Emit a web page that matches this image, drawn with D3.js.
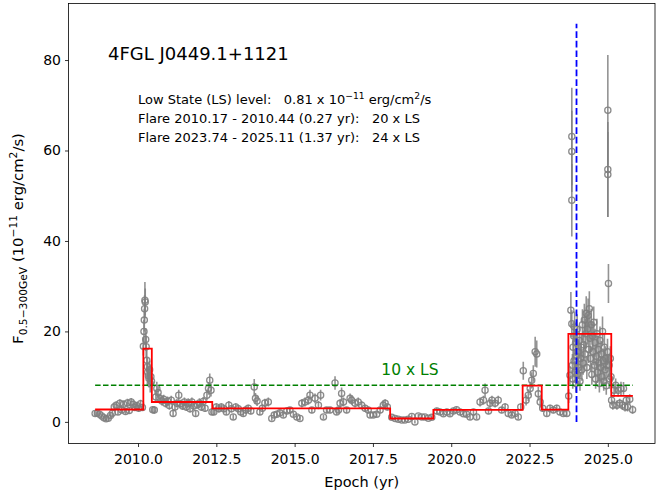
<!DOCTYPE html>
<html>
<head>
<meta charset="utf-8">
<script src="https://cdn.jsdelivr.net/npm/d3@7"></script>
<style>
  body { margin: 0; background: #fff; }
  svg { display: block; }
  text { font-family: "DejaVu Sans", sans-serif; fill: #000; }
</style>
</head>
<body>
<svg id="chart" width="656" height="497"></svg>
<script>
// Fermi-LAT light curve of 4FGL J0449.1+1121: [epoch (yr), flux (1e-11 erg/cm2/s), 1-sigma error]
const lightCurve = [
  [2008.63, 1.85, 0.5], [2008.70, 1.9, 0.5], [2008.77, 1.7, 0.5], [2008.84, 1.3, 0.5],
  [2008.91, 0.9, 0.5], [2008.98, 0.7, 0.5], [2009.05, 0.8, 0.5], [2009.12, 1.4, 0.6],
  [2009.18, 1.9, 0.6], [2009.24, 3.3, 0.8], [2009.30, 3.7, 0.8], [2009.36, 2.2, 0.7],
  [2009.42, 4.1, 0.9], [2009.48, 2.6, 0.7], [2009.54, 3.9, 0.8], [2009.60, 2.3, 0.7],
  [2009.66, 4.2, 0.9], [2009.72, 2.5, 0.7], [2009.78, 4.4, 0.9], [2009.84, 3.9, 0.8],
  [2009.90, 3.2, 0.8], [2009.96, 3.6, 0.8], [2010.02, 3.0, 0.8], [2010.08, 4.0, 0.9],
  [2010.14, 3.2, 0.8],
  // 2010 flare
  [2010.17, 16.7, 2.0], [2010.19, 20.0, 2.5], [2010.20, 22.5, 2.5], [2010.21, 25.0, 3.0],
  [2010.22, 26.9, 4.0], [2010.23, 26.5, 3.0], [2010.245, 18.2, 2.5], [2010.26, 16.6, 2.5],
  [2010.28, 13.6, 2.5], [2010.30, 12.2, 2.0], [2010.31, 11.0, 2.0], [2010.33, 10.2, 2.0],
  [2010.35, 9.6, 2.0], [2010.37, 11.5, 2.0], [2010.39, 8.5, 2.0], [2010.41, 10.0, 2.0],
  [2010.43, 9.0, 1.8],
  [2010.47, 2.7, 0.8], [2010.52, 2.6, 0.8], [2010.57, 5.5, 1.2], [2010.60, 7.4, 1.5],
  [2010.64, 6.5, 1.3], [2010.70, 5.2, 1.1], [2010.76, 4.6, 1.0], [2010.82, 5.0, 1.0],
  [2010.88, 4.1, 0.9], [2010.94, 4.6, 1.0], [2011.00, 3.6, 0.9], [2011.06, 4.8, 1.0],
  [2011.12, 1.85, 0.7], [2011.18, 3.3, 0.9], [2011.24, 4.1, 0.9], [2011.30, 5.9, 1.2],
  [2011.36, 4.0, 0.9], [2011.42, 3.5, 0.9], [2011.48, 4.4, 1.0], [2011.54, 3.3, 0.9],
  [2011.60, 4.2, 1.0], [2011.66, 2.9, 0.8], [2011.72, 4.4, 1.0], [2011.78, 3.5, 0.9],
  [2011.84, 1.85, 0.7], [2011.90, 3.8, 0.9], [2011.96, 4.2, 1.0], [2012.02, 3.3, 0.9],
  [2012.08, 4.5, 1.0], [2012.14, 3.0, 0.8], [2012.20, 5.9, 1.2], [2012.25, 7.4, 1.4],
  [2012.29, 9.2, 1.5], [2012.33, 7.0, 1.4], [2012.36, 2.2, 0.7],
  [2012.42, 2.2, 0.7], [2012.50, 3.3, 0.8], [2012.58, 2.9, 0.8], [2012.66, 3.3, 0.8],
  [2012.74, 2.9, 0.8], [2012.82, 2.2, 0.7], [2012.90, 3.7, 0.9], [2012.98, 2.9, 0.8],
  [2013.04, 1.1, 0.6], [2013.12, 3.3, 0.8], [2013.20, 2.9, 0.8], [2013.28, 2.2, 0.7],
  [2013.36, 1.85, 0.7], [2013.44, 2.6, 0.8], [2013.52, 3.0, 0.8], [2013.60, 2.4, 0.7],
  [2013.71, 7.7, 1.8], [2013.75, 5.2, 1.2], [2013.80, 4.6, 1.1], [2013.89, 2.2, 0.7],
  [2013.97, 3.0, 0.8], [2014.05, 4.2, 0.9], [2014.16, 4.4, 1.0], [2014.27, 0.75, 0.5],
  [2014.35, 1.5, 0.6], [2014.43, 1.7, 0.6], [2014.53, 2.0, 0.6], [2014.64, 1.5, 0.6],
  [2014.75, 2.4, 0.7], [2014.85, 2.6, 0.7], [2014.96, 1.7, 0.6], [2015.07, 1.1, 0.5],
  [2015.17, 0.75, 0.5], [2015.23, 4.1, 0.9], [2015.33, 4.4, 1.0], [2015.44, 4.8, 1.0],
  [2015.49, 5.9, 1.2], [2015.55, 2.6, 0.7], [2015.65, 5.2, 1.1], [2015.76, 3.7, 0.9],
  [2015.83, 5.9, 1.2], [2015.92, 1.1, 0.5], [2016.02, 2.6, 0.7], [2016.13, 2.6, 0.7],
  [2016.29, 8.6, 1.5], [2016.34, 2.2, 0.7], [2016.40, 2.6, 0.7], [2016.45, 4.1, 0.9],
  [2016.50, 6.3, 1.3], [2016.56, 4.4, 1.0], [2016.66, 2.6, 0.7], [2016.77, 5.2, 1.1],
  [2016.82, 4.8, 1.0], [2016.93, 4.1, 0.9], [2017.03, 4.4, 1.0], [2017.14, 3.7, 0.9],
  [2017.25, 3.0, 0.8], [2017.35, 2.6, 0.7], [2017.41, 1.5, 0.6], [2017.51, 1.5, 0.6],
  [2017.62, 1.7, 0.6], [2017.73, 2.6, 0.7], [2017.83, 3.7, 0.9], [2017.89, 4.1, 0.9],
  [2017.96, 3.3, 0.8],
  [2018.10, 1.0, 0.45], [2018.21, 0.75, 0.45], [2018.31, 0.6, 0.4], [2018.42, 0.4, 0.4],
  [2018.52, 0.4, 0.4], [2018.63, 0.6, 0.4], [2018.74, 1.2, 0.5], [2018.84, 0.0, 0.35],
  [2018.95, 1.3, 0.5], [2019.06, 1.1, 0.5], [2019.16, 1.1, 0.5], [2019.27, 0.8, 0.45],
  [2019.38, 1.0, 0.45],
  [2019.54, 2.4, 0.7], [2019.64, 2.2, 0.7], [2019.75, 1.8, 0.6], [2019.86, 2.2, 0.7],
  [2019.96, 1.8, 0.6], [2020.07, 2.4, 0.7], [2020.17, 2.7, 0.7], [2020.28, 2.2, 0.7],
  [2020.39, 1.8, 0.6], [2020.49, 1.7, 0.6], [2020.60, 1.1, 0.5], [2020.71, 2.2, 0.7],
  [2020.81, 1.1, 0.5], [2020.92, 4.4, 1.0], [2021.03, 4.8, 1.0], [2021.08, 7.0, 1.5],
  [2021.19, 2.4, 0.7], [2021.24, 4.1, 0.9], [2021.30, 4.8, 1.0], [2021.40, 4.1, 0.9],
  [2021.50, 4.8, 1.0], [2021.61, 2.6, 0.7], [2021.72, 3.3, 0.8], [2021.82, 1.85, 0.6],
  [2021.93, 1.5, 0.6], [2022.04, 1.85, 0.6], [2022.14, 1.1, 0.5], [2022.22, 3.3, 0.8],
  // 2022 activity
  [2022.30, 11.3, 2.0], [2022.39, 4.8, 1.2], [2022.46, 5.9, 1.3], [2022.52, 7.4, 1.5],
  [2022.57, 9.2, 1.8], [2022.62, 10.7, 1.8], [2022.68, 15.5, 3.3], [2022.73, 15.0, 3.0],
  [2022.78, 6.2, 1.5], [2022.84, 4.4, 1.2],
  [2022.92, 3.0, 0.8], [2023.05, 1.85, 0.6], [2023.155, 3.0, 0.8], [2023.26, 2.6, 0.7],
  [2023.37, 3.0, 0.8], [2023.47, 2.2, 0.7], [2023.58, 1.85, 0.6], [2023.69, 1.85, 0.6],
  // 2023-2025 flare
  [2023.75, 5.7, 1.5], [2023.79, 10.3, 2.0], [2023.82, 24.7, 4.0], [2023.85, 21.7, 3.0],
  [2023.85, 63.1, 10.8], [2023.85, 59.8, 9.0], [2023.85, 49.0, 8.0],
  [2023.87, 12.5, 2.5], [2023.88, 9.5, 2.2], [2023.89, 16.5, 3.0], [2023.91, 19.0, 3.2],
  [2023.92, 13.5, 2.6], [2023.94, 21.0, 3.4], [2023.95, 11.0, 2.4], [2023.97, 17.5, 3.0],
  [2023.98, 8.5, 2.0], [2024.00, 14.5, 2.8], [2024.02, 20.5, 3.3], [2024.03, 10.5, 2.3],
  [2024.05, 15.5, 2.9], [2024.07, 12.0, 2.5], [2024.09, 18.0, 3.1], [2024.11, 9.0, 2.1],
  [2024.13, 14.0, 2.7], [2024.15, 16.5, 3.0], [2024.17, 11.5, 2.4], [2024.19, 21.5, 3.4],
  [2024.21, 13.0, 2.6], [2024.23, 17.0, 3.0], [2024.25, 22.5, 3.6], [2024.27, 15.0, 2.9],
  [2024.29, 19.5, 3.3], [2024.31, 24.0, 3.8], [2024.33, 12.0, 2.5], [2024.35, 20.5, 3.4],
  [2024.37, 23.5, 3.8], [2024.39, 16.0, 3.0], [2024.41, 25.0, 3.9], [2024.43, 18.5, 3.2],
  [2024.45, 14.0, 2.8], [2024.47, 21.5, 3.5], [2024.49, 10.5, 2.3], [2024.51, 19.0, 3.2],
  [2024.53, 15.5, 2.9], [2024.55, 22.0, 3.5], [2024.57, 12.5, 2.5], [2024.59, 17.5, 3.1],
  [2024.61, 9.5, 2.2], [2024.63, 14.5, 2.8], [2024.65, 19.5, 3.3], [2024.67, 11.0, 2.4],
  [2024.69, 16.0, 3.0], [2024.71, 13.0, 2.6], [2024.73, 8.5, 2.0], [2024.75, 18.0, 3.1],
  [2024.77, 12.0, 2.5], [2024.79, 15.0, 2.9], [2024.81, 10.0, 2.2], [2024.83, 20.0, 3.3],
  [2024.85, 13.5, 2.7], [2024.87, 9.0, 2.1], [2024.89, 16.5, 3.0], [2024.91, 11.5, 2.4],
  [2024.93, 14.0, 2.7], [2024.95, 8.0, 2.0], [2024.97, 12.5, 2.5], [2024.99, 15.5, 2.9],
  [2025.00, 68.9, 12.2], [2025.00, 55.8, 10.5], [2025.00, 54.7, 9.4], [2025.02, 30.6, 4.3],
  [2025.04, 12.5, 2.5], [2025.06, 9.5, 2.2], [2025.08, 14.0, 2.7], [2025.10, 10.0, 2.2],
  [2025.12, 4.8, 1.2], [2025.16, 3.7, 1.0], [2025.20, 7.0, 1.5], [2025.25, 8.1, 1.5],
  [2025.29, 3.7, 1.0], [2025.33, 7.0, 1.4], [2025.38, 4.1, 1.0], [2025.42, 7.4, 1.5],
  [2025.46, 3.7, 1.0], [2025.50, 7.4, 1.4], [2025.55, 3.3, 1.0], [2025.59, 4.8, 1.1],
  [2025.63, 3.3, 1.0], [2025.70, 5.0, 1.1], [2025.79, 2.7, 0.9]
];

// Bayesian-block segmentation: block boundaries (yr) and block flux levels
const lowStateLevel = 0.81;
const blockEdges  = [2008.63, 2010.17, 2010.44, 2012.37, 2018.05, 2019.43, 2022.28, 2022.89, 2023.74, 2025.11, 2025.80];
const blockLevels = [2.74, 16.2, 4.4, 3.0, 0.75, 2.65, 8.0, 2.7, 19.44, 5.75];

// reference lines
const thresholdMultiple = 10;
const markerEpoch = 2024.0;
const markerTop = 88;

// axis ticks
const xTicks = [2010, 2012.5, 2015, 2017.5, 2020, 2022.5, 2025];
const yTicks = [0, 20, 40, 60, 80];

const svg = d3.select("#chart");
const plot = { left: 68.5, right: 655, top: 3.5, bottom: 443.5 };

const x = d3.scaleLinear().domain([2007.78, 2026.506]).range([plot.left, plot.right]);
const y = d3.scaleLinear().domain([-4.78, 92.5]).range([plot.bottom, plot.top]);

const clipId = "plot-clip";
svg.append("clipPath").attr("id", clipId).append("rect")
  .attr("x", plot.left).attr("y", plot.top)
  .attr("width", plot.right - plot.left).attr("height", plot.bottom - plot.top);

const g = svg.append("g").attr("clip-path", `url(#${clipId})`);

// error bars
g.append("g").selectAll("line").data(lightCurve).join("line")
  .attr("x1", d => x(d[0])).attr("x2", d => x(d[0]))
  .attr("y1", d => y(d[1] - d[2])).attr("y2", d => y(d[1] + d[2]))
  .attr("stroke", "#808080").attr("stroke-width", 1.6).attr("stroke-opacity", 0.85);

// flux points
g.append("g").selectAll("circle").data(lightCurve).join("circle")
  .attr("cx", d => x(d[0])).attr("cy", d => y(d[1]))
  .attr("r", 3.1)
  .attr("fill", "none").attr("stroke", "#808080").attr("stroke-width", 1.3)
  .attr("stroke-opacity", 0.9);

// 10 x LS threshold
const threshold = thresholdMultiple * lowStateLevel;
g.append("line")
  .attr("x1", x(blockEdges[0])).attr("x2", x(blockEdges[blockEdges.length - 1]))
  .attr("y1", y(threshold)).attr("y2", y(threshold))
  .attr("stroke", "#008000").attr("stroke-width", 1.5)
  .attr("stroke-dasharray", "5.5,2.4");

// Bayesian blocks
const steps = blockLevels.map((v, i) => [blockEdges[i], v]);
steps.push([blockEdges[blockEdges.length - 1], blockLevels[blockLevels.length - 1]]);
g.append("path")
  .attr("d", d3.line().x(d => x(d[0])).y(d => y(d[1])).curve(d3.curveStepAfter)(steps))
  .attr("fill", "none").attr("stroke", "#ff0000").attr("stroke-width", 1.8);

// epoch marker
g.append("line")
  .attr("x1", x(markerEpoch)).attr("x2", x(markerEpoch))
  .attr("y1", y(0)).attr("y2", y(markerTop))
  .attr("stroke", "#0000ff").attr("stroke-width", 1.8)
  .attr("stroke-dasharray", "6.7,2.9");

// threshold label
svg.append("text")
  .attr("x", x(2018.68)).attr("y", y(10.35))
  .attr("text-anchor", "middle").style("font-size", "15.5px").style("fill", "#008000")
  .text(`${thresholdMultiple} x LS`);

// axes
const xAxis = d3.axisBottom(x).tickValues(xTicks).tickFormat(d3.format(".1f")).tickSizeOuter(0).tickSize(3.5).tickPadding(4);
const yAxis = d3.axisLeft(y).tickValues(yTicks).tickFormat(d3.format("d")).tickSizeOuter(0).tickSize(3.5).tickPadding(4);

const gx = svg.append("g").attr("transform", `translate(0,${plot.bottom})`).call(xAxis);
const gy = svg.append("g").attr("transform", `translate(${plot.left},0)`).call(yAxis);
[gx, gy].forEach(a => {
  a.select(".domain").remove();
  a.selectAll(".tick line").attr("stroke", "#000").attr("stroke-width", 0.8);
  a.selectAll(".tick text").style("font-size", "14px").style("font-family", "DejaVu Sans").attr("fill", "#000");
});
gx.selectAll(".tick text").attr("dy", "0.95em");

// frame
svg.append("rect")
  .attr("x", plot.left).attr("y", plot.top)
  .attr("width", plot.right - plot.left).attr("height", plot.bottom - plot.top)
  .attr("fill", "none").attr("stroke", "#000").attr("stroke-width", 0.8);

// axis titles
svg.append("text")
  .attr("x", (plot.left + plot.right) / 2).attr("y", 487)
  .attr("text-anchor", "middle").style("font-size", "14.5px")
  .text("Epoch (yr)");

const yl = svg.append("text")
  .attr("transform", `translate(23,${(plot.top + plot.bottom) / 2 + 15}) rotate(-90)`)
  .attr("text-anchor", "middle").style("font-size", "14.8px");
yl.append("tspan").text("F");
yl.append("tspan").attr("dy", 3.5).style("font-size", "10.7px").text("0.5\u2212300GeV");
yl.append("tspan").attr("dy", -3.5).text(" (10");
yl.append("tspan").attr("dy", -6).style("font-size", "10.7px").text("\u221211");
yl.append("tspan").attr("dy", 6).text(" erg/cm");
yl.append("tspan").attr("dy", -6).style("font-size", "10.7px").text("2");
yl.append("tspan").attr("dy", 6).text("/s)");

// source name and summary
svg.append("text").attr("x", 108).attr("y", 60).style("font-size", "18px").text("4FGL J0449.1+1121");

const info = svg.append("g").style("font-size", "13px");
const l1 = info.append("text").attr("x", 138).attr("y", 104).style("white-space", "pre");
l1.append("tspan").text(`Low State (LS) level:   ${lowStateLevel.toFixed(2)} x 10`);
l1.append("tspan").attr("dy", -5.5).style("font-size", "9.2px").text("\u221211");
l1.append("tspan").attr("dy", 5.5).text(" erg/cm");
l1.append("tspan").attr("dy", -5.5).style("font-size", "9.2px").text("2");
l1.append("tspan").attr("dy", 5.5).text("/s");

info.append("text").attr("x", 138).attr("y", 123).style("white-space", "pre")
  .text("Flare 2010.17 - 2010.44 (0.27 yr):   20 x LS");
info.append("text").attr("x", 138).attr("y", 142).style("white-space", "pre")
  .text("Flare 2023.74 - 2025.11 (1.37 yr):   24 x LS");
</script>
</body>
</html>
